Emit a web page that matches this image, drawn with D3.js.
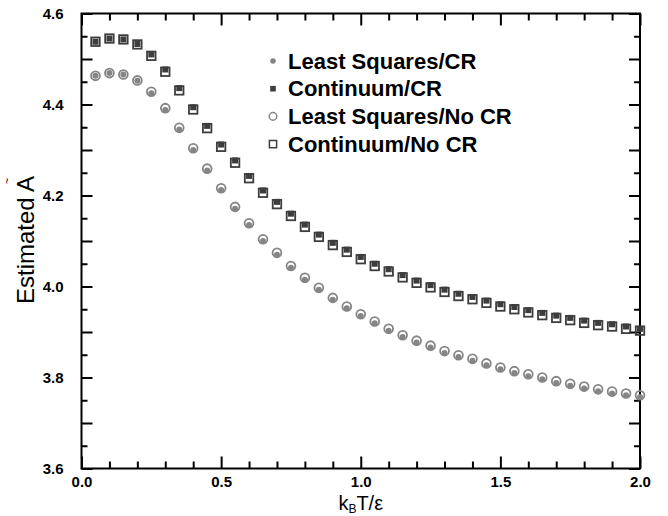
<!DOCTYPE html>
<html>
<head>
<meta charset="utf-8">
<script src="https://cdn.jsdelivr.net/npm/d3@7"></script>
<style>
  body { margin: 0; background: #fff; }
  svg { display: block; font-family: "Liberation Sans", Arial, sans-serif; }
</style>
</head>
<body>
<script>
// kT/eps values (0.05 steps)
const temps = [0.05, 0.10, 0.15, 0.20, 0.25, 0.30, 0.35, 0.40, 0.45, 0.50,
    0.55, 0.60, 0.65, 0.70, 0.75, 0.80, 0.85, 0.90, 0.95, 1.00,
    1.05, 1.10, 1.15, 1.20, 1.25, 1.30, 1.35, 1.40, 1.45, 1.50,
    1.55, 1.60, 1.65, 1.70, 1.75, 1.80, 1.85, 1.90, 1.95, 2.00];

const lsCR = [4.463, 4.469, 4.466, 4.452, 4.425, 4.388, 4.345, 4.300, 4.255, 4.212,
    4.171, 4.135, 4.100, 4.070, 4.041, 4.015, 3.993, 3.971, 3.952, 3.935,
    3.919, 3.903, 3.889, 3.877, 3.866, 3.854, 3.845, 3.837, 3.827, 3.818,
    3.810, 3.803, 3.796, 3.788, 3.782, 3.776, 3.770, 3.765, 3.761, 3.757];

const contCR = [4.538, 4.545, 4.543, 4.533, 4.510, 4.477, 4.436, 4.394, 4.353, 4.312,
    4.277, 4.243, 4.211, 4.186, 4.160, 4.136, 4.114, 4.096, 4.081, 4.065,
    4.050, 4.038, 4.025, 4.013, 4.003, 3.993, 3.984, 3.977, 3.969, 3.961,
    3.955, 3.948, 3.942, 3.936, 3.931, 3.925, 3.920, 3.917, 3.912, 3.907];

const lsNoCR = [4.463, 4.469, 4.466, 4.453, 4.428, 4.392, 4.349, 4.304, 4.259, 4.216,
    4.175, 4.139, 4.104, 4.074, 4.045, 4.019, 3.997, 3.975, 3.956, 3.939,
    3.923, 3.907, 3.893, 3.881, 3.870, 3.858, 3.849, 3.841, 3.831, 3.822,
    3.814, 3.807, 3.800, 3.792, 3.786, 3.780, 3.774, 3.769, 3.765, 3.761];

const contNoCR = [4.538, 4.545, 4.543, 4.532, 4.507, 4.472, 4.431, 4.389, 4.348, 4.307,
    4.272, 4.238, 4.206, 4.181, 4.155, 4.131, 4.109, 4.091, 4.076, 4.060,
    4.045, 4.033, 4.020, 4.008, 3.998, 3.988, 3.979, 3.972, 3.964, 3.956,
    3.950, 3.943, 3.937, 3.931, 3.926, 3.920, 3.915, 3.912, 3.907, 3.903];

const legendLabels = ['Least Squares/CR', 'Continuum/CR', 'Least Squares/No CR', 'Continuum/No CR'];
const xLabelTicks = [0, 0.5, 1.0, 1.5, 2.0];
const yLabelTicks = [3.6, 3.8, 4.0, 4.2, 4.4, 4.6];

const width = 668, height = 516;
const margin = {top: 13.5, right: 28, bottom: 47.5, left: 81.5};
const innerW = width - margin.left - margin.right;
const innerH = height - margin.top - margin.bottom;

const circleGray = '#858585';
const squareGray = '#3d3d3d';

const svg = d3.select('body').append('svg')
    .attr('width', width)
    .attr('height', height);

const g = svg.append('g').attr('transform', `translate(${margin.left},${margin.top})`);

const x = d3.scaleLinear().domain([0, 2]).range([0, innerW]);
const y = d3.scaleLinear().domain([3.6, 4.6]).range([innerH, 0]);

// ticks, all pointing inwards
const xMinor = d3.range(0, 2.0001, 0.1).filter(v => Math.abs(v * 2 - Math.round(v * 2)) > 1e-6);
const yMinor = d3.range(3.6, 4.6001, 0.05).filter(v => Math.abs(v * 10 - Math.round(v * 10)) > 1e-6);
const yMajor = d3.range(3.6, 4.6001, 0.1);

function styleAxis(sel) {
    sel.select('.domain').remove();
    sel.selectAll('line').attr('stroke', '#000').attr('stroke-width', 2);
    sel.selectAll('text')
        .attr('font-size', 15)
        .attr('font-weight', 'bold')
        .attr('fill', '#000');
}

g.append('g').attr('transform', `translate(0,${innerH})`)
    .call(d3.axisBottom(x).tickValues(xLabelTicks).tickSize(-12).tickPadding(8).tickFormat(d3.format('.1f')))
    .call(styleAxis);
g.append('g').attr('transform', `translate(0,${innerH})`)
    .call(d3.axisBottom(x).tickValues(xMinor).tickSize(-7).tickFormat(''))
    .call(styleAxis);
g.append('g')
    .call(d3.axisTop(x).tickValues(xLabelTicks).tickSize(-12).tickFormat(''))
    .call(styleAxis);
g.append('g')
    .call(d3.axisTop(x).tickValues(xMinor).tickSize(-7).tickFormat(''))
    .call(styleAxis);

g.append('g')
    .call(d3.axisLeft(y).tickValues(yLabelTicks).tickSize(0).tickPadding(18).tickFormat(d3.format('.1f')))
    .call(styleAxis);
g.append('g')
    .call(d3.axisLeft(y).tickValues(yMajor).tickSize(-11).tickFormat(''))
    .call(styleAxis);
g.append('g')
    .call(d3.axisLeft(y).tickValues(yMinor).tickSize(-6).tickFormat(''))
    .call(styleAxis);
g.append('g').attr('transform', `translate(${innerW},0)`)
    .call(d3.axisRight(y).tickValues(yMajor).tickSize(-11).tickFormat(''))
    .call(styleAxis);
g.append('g').attr('transform', `translate(${innerW},0)`)
    .call(d3.axisRight(y).tickValues(yMinor).tickSize(-6).tickFormat(''))
    .call(styleAxis);

// frame
g.append('rect')
    .attr('width', innerW)
    .attr('height', innerH)
    .attr('fill', 'none')
    .attr('stroke', '#000')
    .attr('stroke-width', 2);

// data markers
const openSize = 8.5, fillSize = 6;
const toPts = vals => temps.map((t, i) => ({t, v: vals[i]}));

g.append('g').selectAll('circle').data(toPts(lsNoCR)).join('circle')
    .attr('cx', d => x(d.t)).attr('cy', d => y(d.v)).attr('r', 4.4)
    .attr('fill', 'none').attr('stroke', circleGray).attr('stroke-width', 1.8);

g.append('g').selectAll('rect').data(toPts(contNoCR)).join('rect')
    .attr('x', d => x(d.t) - openSize / 2).attr('y', d => y(d.v) - openSize / 2)
    .attr('width', openSize).attr('height', openSize)
    .attr('fill', 'none').attr('stroke', squareGray).attr('stroke-width', 1.8);

g.append('g').selectAll('circle').data(toPts(lsCR)).join('circle')
    .attr('cx', d => x(d.t)).attr('cy', d => y(d.v)).attr('r', 3)
    .attr('fill', circleGray);

g.append('g').selectAll('rect').data(toPts(contCR)).join('rect')
    .attr('x', d => x(d.t) - fillSize / 2).attr('y', d => y(d.v) - fillSize / 2)
    .attr('width', fillSize).attr('height', fillSize)
    .attr('fill', squareGray);

// legend
const legend = svg.append('g').attr('transform', 'translate(273,61)');
const rowH = 27.7;
legend.append('circle').attr('cx', 0).attr('cy', 0).attr('r', 2.8).attr('fill', circleGray);
legend.append('rect').attr('x', -2.8).attr('y', rowH - 2.8).attr('width', 5.6).attr('height', 5.6).attr('fill', squareGray);
legend.append('circle').attr('cx', 0).attr('cy', rowH * 2).attr('r', 3.8)
    .attr('fill', 'none').attr('stroke', circleGray).attr('stroke-width', 1.5);
legend.append('rect').attr('x', -3.6).attr('y', rowH * 3 - 3.6).attr('width', 7.2).attr('height', 7.2)
    .attr('fill', 'none').attr('stroke', squareGray).attr('stroke-width', 1.5);

legend.selectAll('text').data(legendLabels).join('text')
    .attr('x', 15)
    .attr('y', (d, i) => i * rowH + 7.5)
    .attr('font-size', 22)
    .attr('font-weight', 'bold')
    .attr('fill', '#000')
    .text(d => d);

// axis titles
const xTitle = svg.append('text')
    .attr('x', margin.left + innerW / 2)
    .attr('y', 510)
    .attr('text-anchor', 'middle')
    .attr('font-size', 20)
    .attr('fill', '#000');
xTitle.append('tspan').text('k');
xTitle.append('tspan').attr('font-size', 12).attr('dy', 3).text('B');
xTitle.append('tspan').attr('dy', -3).text('T/ε');

svg.append('text')
    .attr('transform', 'translate(34,240) rotate(-90)')
    .attr('text-anchor', 'middle')
    .attr('font-size', 24)
    .attr('fill', '#000')
    .text('Estimated  A');

svg.append('text')
    .attr('transform', 'translate(11,181) rotate(-90)')
    .attr('text-anchor', 'middle')
    .attr('font-size', 10)
    .attr('fill', '#000')
    .text('~');
</script>
</body>
</html>
